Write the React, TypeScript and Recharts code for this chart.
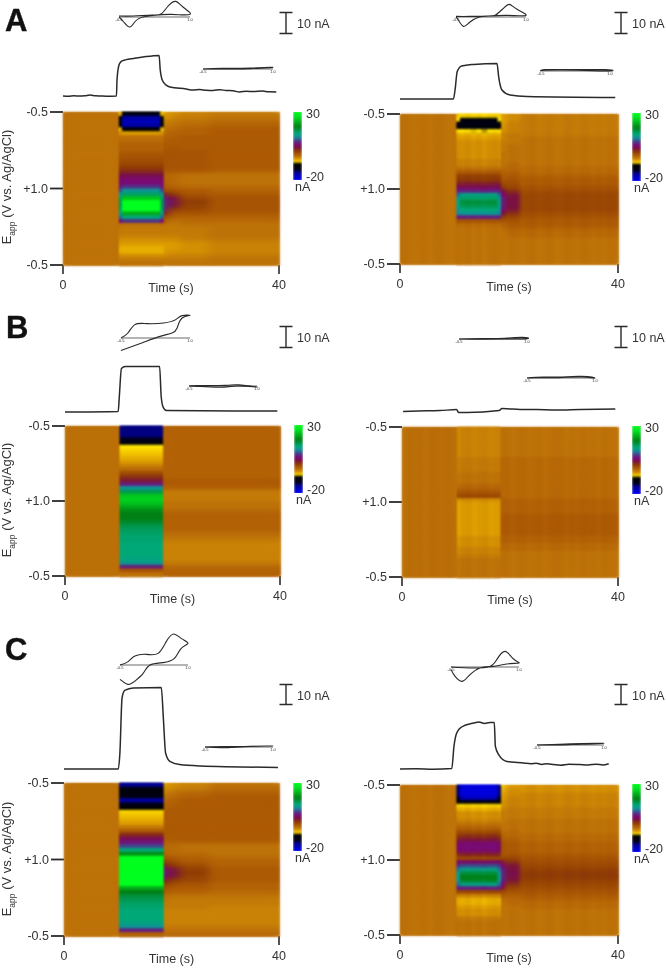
import { Line, LineChart, ReferenceDot, ReferenceLine, Scatter, ScatterChart, XAxis, YAxis } from "recharts"

const colorStops: [number, string][] = [
  [-20, "#0000f0"], [-14, "#000080"], [-13, "#00001e"], [-7.6, "#000000"], [-7, "#ffe400"],
  [-6, "#f0c000"], [-5, "#dc9c00"], [-4, "#c98206"], [-3, "#bd7208"], [-1.5, "#ad5a04"], [1, "#8f3c04"], [3.5, "#7a1040"],
  [6, "#7a0a78"], [8.5, "#4a3a8a"], [11.5, "#10909a"], [14, "#00a878"], [19, "#007f14"],
  [26, "#00e020"], [30, "#00ff1e"],
]
const colorbarLevels = [30, 29, 28, 27, 26, 25, 24, 23, 22, 21, 20, 19, 18, 17, 16, 15, 14, 13, 12, 11, 10, 9, 8, 7, 6, 5, 4, 3, 2, 1, 0, -1, -2, -3, -4, -5, -6, -7, -8, -9, -10, -11, -12, -13, -14, -15, -16, -17, -18, -19, -20]

// heat map profiles, 40 samples down one voltage scan
const aLeftPre = [-3, -3, -3, -3, -3, -3, -3, -3, -3, -3, -3, -3, -3, -3, -3, -3, -3, -3, -3, -3, -3, -3, -3, -3, -3, -3, -3, -3, -3, -3, -3, -3, -3, -3, -3, -3, -3, -3, -3, -3]
const aLeftEdge = [-6, -9, -10, -9, -6, -4.5, -3, -2.5, -2, -2, -1.5, -1, -0.5, 0, 1, 2, 3.5, 5, 5.5, 6.5, 9, 12, 15, 16, 16, 15, 13, 10, 6, -3, -3.5, -3.5, -4, -4.5, -5, -5.5, -5.5, -4.5, -3.5, -3]
const aLeftStim = [-10, -16, -17, -16, -8, -5, -3, -2.5, -2, -2, -1.5, -1, -0.5, 0, 1, 2, 4, 5.5, 6, 8, 12, 15, 24, 30, 30, 30, 22, 14, 8, -3, -3.5, -3.5, -4, -4.5, -5, -5.5, -5.5, -4.5, -3.5, -3]
const aLeftPost1 = [-5, -5, -4, -3.5, -3, -2.5, -2, -2, -1.5, -1.5, -1, -1, -1, -1, -1, -1.5, -2, -2, -2, -1.5, 0, 3, 7, 8, 8, 7, 3, 0, -1.5, -3, -3.5, -3.5, -4, -4.5, -5, -5, -5, -4.5, -3.5, -3]
const aLeftPost2 = [-4.5, -4, -3.5, -3, -2.5, -2, -2, -1.5, -1.5, -1, -1, -1, -1, -1, -1, -1.5, -2.5, -2.5, -2.5, -2, -1, 1, 3.5, 4.5, 3.5, 1, -1, -2, -3, -3.5, -3.5, -3.5, -4, -4.5, -5, -5, -4.5, -4, -3.5, -3]
const aLeftPost3 = [-4, -3.5, -3, -2.5, -2, -2, -1.5, -1.5, -1.5, -1.5, -1, -1, -1, -1, -1, -1.5, -3, -3, -3, -2.5, -1.5, -1, 0, 1, 0.5, 0, -1, -2, -2.5, -3, -3.5, -3.5, -3.5, -4, -4.5, -4.5, -4.5, -4, -3.5, -3]
const aLeftPost4 = [-3.5, -3, -2.5, -2, -1.5, -1.5, -1.5, -1.5, -1.5, -1.5, -1.5, -1.5, -1.5, -1.5, -1.5, -2, -3, -3, -3, -2.5, -2, -1.5, -1, -1, -1, -1, -1.5, -2, -2.5, -3, -3, -3, -3, -3.5, -4, -4, -4, -3.5, -3, -3]

const aRightPre = [-3, -3, -3, -3, -3, -3, -3, -3, -3, -3, -3, -3, -3, -3, -3, -3, -3, -3, -3, -3, -3, -3, -3, -3, -3, -3, -3, -3, -3, -3, -3, -3, -3, -3, -3, -3, -3, -3, -3, -3]
const aRightEdge = [-6.5, -7, -10, -10, -7, -5.5, -5, -4.5, -4.5, -4.5, -4.5, -4.5, -4, -4, -3, -1.5, 0.5, 1, 2.5, 4.5, 7, 10, 12, 13, 13, 12, 11, 7, -1, -2.5, -3, -3, -3, -3, -3, -3, -3, -3, -3, -3]
const aRightStim = [-6.5, -10, -11, -10, -7, -5.5, -5, -4.5, -4.5, -4.5, -4.5, -4.5, -4, -4, -3, -1.5, 0.5, 1, 2.5, 4.5, 7, 13, 15, 17, 16, 14, 12, 7, -1, -2.5, -3, -3, -3, -3, -3, -3, -3, -3, -3, -3]
const aRightPost1 = [-5, -5, -5, -4.5, -4.5, -4, -4, -3.5, -3.5, -3.5, -3, -3, -3, -3, -2.5, -2, -1.5, -1, 0, 1, 4, 6, 7, 7, 7, 6, 4, 1, -1, -2, -2.5, -3, -3, -3, -3, -3, -3, -3, -3, -3]
const aRightPost2 = [-4.5, -4.5, -4, -4, -4, -3.5, -3.5, -3.5, -3, -3, -3, -3, -3, -2.5, -2.5, -2, -1.5, -1, -0.5, 0, 1.5, 3, 3.5, 3.5, 3.5, 3, 1.5, 0, -1, -1.5, -2, -2.5, -2.5, -3, -3, -3, -3, -3, -3, -3]
const aRightPost3 = [-3.5, -3.5, -3.5, -3.5, -3.5, -3.5, -3, -3, -3, -3, -3, -3, -3, -3, -2.5, -2.5, -2, -1.5, -1.5, -1, -0.5, 0, 0, 0, 0, 0, -0.5, -1, -1.5, -1.5, -2, -2.5, -2.5, -3, -3, -3, -3, -3, -3, -3]

const bLeftPre = [-2.8, -2.8, -2.8, -2.8, -2.8, -2.8, -2.8, -2.8, -2.8, -2.8, -2.8, -2.8, -2.8, -2.8, -2.8, -2.8, -2.8, -2.8, -2.8, -2.8, -2.8, -2.8, -2.8, -2.8, -2.8, -2.8, -2.8, -2.8, -2.8, -2.8, -2.8, -2.8, -2.8, -2.8, -2.8, -2.8, -2.8, -2.8, -2.8, -2.8]
const bLeftStim = [-14, -14, -14, -13, -10, -7, -6.5, -6, -5.5, -5, -4, -2.5, -0.5, 1.5, 3, 7, 12, 16, 24, 25, 24, 22, 20, 19, 19, 18, 16.5, 15.5, 15, 14.5, 14.5, 14, 14, 14, 14, 13.5, 12.5, 7, -1, -3]
const bLeftPost = [-2, -2, -2, -2, -2, -2, -2, -2, -2, -2, -2, -2, -2, -2, -1.5, -1.5, -2, -3.5, -3.5, -3.5, -3, -3, -2.5, -2, -2, -2, -2, -2, -2.5, -3, -3.5, -4, -4, -4, -4, -4, -3.5, -2.5, -2, -2]

const bRightPre = [-2.8, -2.8, -2.8, -2.8, -2.8, -2.8, -2.8, -2.8, -2.8, -2.8, -2.8, -2.8, -2.8, -2.8, -2.8, -2.8, -2.8, -2.8, -2.8, -2.8, -2.8, -2.8, -2.8, -2.8, -2.8, -2.8, -2.8, -2.8, -2.8, -2.8, -2.8, -2.8, -2.8, -2.8, -2.8, -2.8, -2.8, -2.8, -2.8, -2.8]
const bRightStim = [-4, -4, -4, -4, -4, -4, -4, -4, -3.5, -3.5, -3.5, -3.5, -3, -3, -3, -2.5, -2, -1, 0, -4.5, -5, -5, -5, -5, -5, -5, -5, -5, -5, -4.5, -4.5, -4.5, -4, -4, -3.5, -3, -3, -3, -3, -3]
const bRightPost = [-3, -3, -3, -3, -3, -3, -3, -3, -2.5, -2.5, -2.5, -2.5, -2.5, -2.5, -2.5, -2.5, -2.5, -2.5, -2.5, -2, -2, -2, -2, -1.5, -1.5, -1.5, -1.5, -1.5, -1.5, -2, -2, -2.5, -2.5, -3, -3, -3, -3, -3, -3, -3]

const cLeftPre = [-3, -3, -3, -3, -3, -3, -3, -3, -3, -3, -3, -3, -3, -3, -3, -3, -3, -3, -3, -3, -3, -3, -3, -3, -3, -3, -3, -3, -3, -3, -3, -3, -3, -3, -3, -3, -3, -3, -3, -3]
const cLeftStim = [-15, -10, -10, -11, -16, -13, -8, -6.5, -6, -5.5, -5, -3.5, -1.5, 2, 4.5, 6.5, 9, 14, 20, 30, 30, 30, 30, 30, 30, 30, 30, 22, 19, 17, 16, 15, 14.5, 14, 14, 14, 13.5, 12, 7, -2]
const cLeftPost1 = [-5, -4.5, -4, -3, -2.5, -2, -2, -1.5, -1.5, -1.5, -1.5, -1.5, -1.5, -1.5, -1.5, -2, -2.5, -2.5, -2, -1, 1, 3, 6, 7, 6, 3, 1, -0.5, -1.5, -2.5, -3, -3.5, -3.5, -4, -4, -4, -4, -3.5, -3, -2.5]
const cLeftPost2 = [-4.5, -4, -3, -2.5, -2, -2, -1.5, -1.5, -1.5, -1.5, -1.5, -1.5, -1.5, -1.5, -1.5, -2, -2.5, -2.5, -2.5, -1.5, -0.5, 1, 3, 3.5, 3, 1, -0.5, -1.5, -2, -3, -3.5, -3.5, -3.5, -4, -4, -4, -4, -3.5, -3, -2.5]
const cLeftPost3 = [-4, -3.5, -2.5, -2, -1.5, -1.5, -1.5, -1.5, -1.5, -1.5, -1.5, -1.5, -1.5, -1.5, -1.5, -2, -3, -3, -2.5, -2, -1.5, -0.5, 0.5, 1, 0.5, 0, -1, -1.5, -2, -3, -3.5, -3.5, -3.5, -4, -4, -4, -4, -3.5, -3, -2.5]
const cLeftPost4 = [-3, -2.5, -2, -1.5, -1.5, -1.5, -1.5, -1.5, -1.5, -1.5, -1.5, -1.5, -1.5, -1.5, -1.5, -2, -3, -3, -3, -2.5, -2, -2, -1.5, -1.5, -1.5, -1.5, -2, -2, -2.5, -3, -3.5, -3.5, -4, -4, -4, -4, -4, -3.5, -3, -2.5]

const cRightPre = [-3, -3, -3, -3, -3, -3, -3, -3, -3, -3, -3, -3, -3, -3, -3, -3, -3, -3, -3, -3, -3, -3, -3, -3, -3, -3, -3, -3, -3, -3, -3, -3, -3, -3, -3, -3, -3, -3, -3, -3]
const cRightEdge = [-14, -14, -14, -12, -9, -6.5, -5.5, -4.5, -4.5, -4, -3, -2, -0.5, 1, 2.5, 4.5, 5, 4.5, 2, 0, 5, 8, 10.5, 12, 12.5, 12, 10, 7, 0, -4, -5.5, -5.5, -5, -4.5, -4.5, -3.5, -3, -3, -3, -3]
const cRightStim = [-19, -19, -19, -17, -10, -6.5, -5.5, -4.5, -4.5, -4, -3, -2, -0.5, 1.5, 3, 5.5, 6, 5.5, 2.5, 0, 5, 9, 13, 17, 19, 18, 13, 7, 0, -4, -5.5, -5.5, -5, -4.5, -4.5, -3.5, -3, -3, -3, -3]
const cRightPost1 = [-6, -5.5, -5, -5, -4.5, -4.5, -4, -3.5, -3.5, -3.5, -3, -3, -2.5, -2, -1.5, -1, -1, -1, -1, 0, 3, 6, 7, 7.5, 7.5, 7, 6, 3, 0, -1.5, -2.5, -3, -3, -3, -3, -3, -3, -3, -3, -3]
const cRightPost2 = [-5, -4.5, -4.5, -4, -4, -4, -3.5, -3.5, -3.5, -3, -3, -3, -2.5, -2.5, -2, -1.5, -1.5, -1.5, -1, 0, 1.5, 3, 3.5, 4, 3.5, 3, 1.5, 0, -1, -2, -2.5, -2.5, -3, -3, -3, -3, -3, -3, -3, -3]
const cRightPost3 = [-4.5, -4.5, -4, -4, -4, -4, -3.5, -3.5, -3.5, -3, -3, -3, -3, -2.5, -2.5, -2, -2, -2, -1.5, -1, -0.5, 0, 0.5, 1, 1, 0.5, 0, -0.5, -1, -1.5, -2, -2.5, -2.5, -3, -3, -3, -3, -3, -3, -3]

// faint vertical streaks of the right column, nA per 1 s bin
const streaksA = [0.2, 0.1, -0.1, 0, 0.2, -0.2, 0.1, 0.2, -0.1, -0.2, 0.1, 0, 0.2, -0.1, 0.1, -0.2, 0.1, 0.2, 0, -0.1, 0.2, 0.1, -0.2, 0.1, 0.2, -0.2, 0, 0.2, -0.1, -0.2, 0.2, 0.1, -0.2, 0.2, 0.1, -0.2, 0.1, -0.1, 0.2, 0]
const streaksB = [-0.1, 0.2, 0, 0.1, -0.2, 0.2, 0.1, -0.1, 0.2, 0, -0.2, 0.1, 0.2, -0.1, 0.1, 0.2, -0.1, 0, 0.1, 0.2, -0.2, 0.1, 0.2, -0.1, 0, 0.2, -0.2, 0.1, 0.1, 0.2, -0.2, 0.1, -0.1, 0.2, 0, 0.1, -0.2, 0.2, 0, -0.1]

// current vs time traces
const traceALTime = [0, 1, 2, 3, 4, 5, 6, 7, 8, 9.9, 10, 10.4, 10.8, 11.7, 13, 14.8, 17.8, 18, 18.5, 19.8, 22.8, 24, 25.3, 26.5, 27.8, 29, 30.2, 31.5, 32.7, 34, 35.2, 37, 38, 39.5]
const traceALCurrent = [0, -0.1, 0.1, 0, 0.1, 0.5, 0.1, 0, -0.1, 0, 8, 15.7, 17.3, 18.2, 18.8, 19.5, 20.3, 13.2, 7.3, 4.5, 3.5, 3, 3.2, 2.9, 2.8, 3.1, 2.8, 2.6, 2, 2.4, 2.2, 2.5, 2.1, 2]
const traceARTime = [0, 9.8, 10.1, 10.5, 11.3, 13.5, 17.8, 18.1, 18.7, 20.2, 23.3, 39.5]
const traceARCurrent = [0, 0, 4.5, 13.7, 16.5, 17.3, 17.8, 11.2, 4.5, 2, 1.2, 0.7]
const traceBLTime = [0, 9.9, 10.1, 10.5, 11.2, 17.6, 17.9, 18.3, 18.9, 39.5]
const traceBLCurrent = [0, 0.3, 7.5, 21.7, 22.7, 22.8, 7.5, 2.2, 0.7, 0.5]
const traceBRTime = [0.2, 3, 7, 10.1, 10.5, 12, 18, 18.5, 21.9, 25, 28.7, 33, 39.5]
const traceBRCurrent = [0.3, 0.5, 0.7, 1.2, -0.3, -0.3, 0.7, 1.7, 1.3, 1.2, 1, 1.3, 1.5]
const traceCLTime = [0, 10.1, 10.4, 10.8, 11.3, 12.9, 18.1, 18.5, 18.9, 19.7, 21.5, 25.3, 39.8]
const traceCLCurrent = [0, 0, 8, 35.5, 39.3, 40.5, 40.8, 24.7, 8, 3.8, 2.2, 1.5, 0.8]
const traceCRTime = [0, 3, 6, 9.5, 9.9, 10.4, 11.3, 13.5, 14.5, 15.5, 16.5, 17.3, 17.5, 18.1, 19.6, 22.7, 24, 25, 26, 27, 28.2, 29.5, 31, 33, 34.5, 36, 37.2, 38.3]
const traceCRCurrent = [0, 0.1, -0.1, 0.2, 11.3, 18, 21, 23, 23.5, 22.8, 23.2, 23.2, 11.3, 7.2, 3.8, 3, 2.6, 2.9, 2.3, 2.6, 2.2, 1.9, 2.4, 2.2, 2, 2.4, 2, 2.6]

// cyclic voltammograms, potential out and back
const cvALTopE = [-0.5, -0.2, 0.2, 0.4, 0.55, 0.7, 0.85, 1, 0.6, 0.2, 0, -0.15, -0.27, -0.4, -0.5]
const cvALTopI = [0.5, 0.5, 1, 1.7, 5.8, 7.8, 5, 1.3, 1.3, 0.7, 0, -2, -5, -2.5, 0]
const cvARTopE = [-0.5, -0.2, 0.2, 0.35, 0.5, 0.64, 0.8, 1, 0.6, 0.2, 0, -0.2, -0.34, -0.45, -0.5]
const cvARTopI = [0.3, 0.3, 0.5, 1, 4, 6.3, 4, 0.8, 0.8, 0.5, 0, -2.5, -4.7, -1.5, 0]
const cvBLTopE = [-0.5, -0.35, -0.2, 0.06, 0.43, 0.69, 0.83, 1, 0.83, 0.72, 0.61, 0.35, -0.02, -0.5]
const cvBLTopI = [0, 2.5, 6.7, 7.2, 7.5, 9.2, 11.2, 11.3, 10, 5, 2.5, 0.8, -2.2, -6.2]
const cvCLTopE = [-0.5, -0.32, -0.17, 0.09, 0.34, 0.52, 0.68, 0.85, 1, 0.85, 0.7, 0.45, 0.16, 0.01, -0.17, -0.32, -0.5]
const cvCLTopI = [0, 1.7, 4.5, 5.3, 5.8, 11.7, 15.5, 13.3, 10.8, 8.3, 3.3, 1.2, 0, -4.2, -8, -9.7, -7.2]
const cvCRTopE = [-0.5, -0.01, 0.36, 0.51, 0.69, 0.88, 1, 0.73, 0.43, 0.14, -0.12, -0.26, -0.41, -0.5]
const cvCRTopI = [0, -0.5, 0.3, 3.7, 7.8, 4, 2, 1.5, 0.3, -0.5, -4.7, -7.2, -4.7, -1.3]
const cvBRTopE = [-0.5, 0, 0.5, 0.9, 1, 0.5, 0, -0.5]
const cvBRTopI = [0, 0.2, 0.4, 0.8, 0.2, 0, -0.1, 0]
const cvALowE = [-0.5, -0.1, 0.5, 1, 0.5, -0.1, -0.5]
const cvALowI = [0, 0.3, 0.5, 0.8, 0.2, 0, 0]
const cvARLowE = [-0.5, -0.4, 0.2, 0.9, 1, 0.3, -0.4, -0.5]
const cvARLowI = [0, 0.7, 0.7, 0.7, 0, 0.4, 0.4, 0]
const cvBLLowE = [-0.5, -0.3, 0.3, 0.6, 1, 0.6, 0.2, -0.3, -0.5]
const cvBLLowI = [0, 0.2, 0.3, 0.6, -0.5, 0, -0.6, -0.2, 0]
const cvBRLowE = [-0.5, -0.3, 0.2, 0.7, 1, 0.7, 0.2, -0.3, -0.5]
const cvBRLowI = [0, 0.4, 0.5, 0.8, 0, 0.5, 0.2, 0.2, 0]
const cvCLLowE = [-0.5, -0.1, 0.5, 1, 0.5, -0.1, -0.5]
const cvCLLowI = [0, 0.2, 0.4, 0.5, 0.3, -0.4, 0]
const cvCRLowE = [-0.5, 0, 0.5, 1, 0.5, 0, -0.5]
const cvCRLowI = [0, 0.4, 0.7, 0.8, 0.4, 0, 0]

const textColor = "#333"
const lineColor = "#2a2a2a"
const fontFamily = "'Liberation Sans', Arial, sans-serif"

type Segment = [number, number, number[]]
type PanelProps = {
  plot: { left: number; top: number; width: number; height: number }
  segments: Segment[]
  stim: [number, number]
  streaks?: number[]
  softFilter: string
  yLabelCenter?: number
  trace: { time: number[]; current: number[]; base: number }
  cvs: { e: number[]; i: number[]; left: number; right: number; base: number }[]
  scaleBar: { x: number; top: number; bottom: number }
  colorbar: { left: number; top: number }
}

function hexToRgb(hex: string) {
  return [1, 3, 5].map((i) => parseInt(hex.slice(i, i + 2), 16))
}

function currentColor(v: number) {
  if (v <= colorStops[0][0]) return colorStops[0][1]
  for (let i = 1; i < colorStops.length; i++) {
    const [hi, hiColor] = colorStops[i]
    if (v <= hi) {
      const [lo, loColor] = colorStops[i - 1]
      const f = (v - lo) / (hi - lo)
      const a = hexToRgb(loColor)
      const b = hexToRgb(hiColor)
      return `rgb(${a.map((c, k) => Math.round(c + (b[k] - c) * f)).join(",")})`
    }
  }
  return colorStops[colorStops.length - 1][1]
}

function buildCells(segments: Segment[], streaks?: number[]) {
  const edges = new Set<number>()
  segments.forEach(([from, to]) => {
    edges.add(from)
    edges.add(to)
  })
  if (streaks) streaks.forEach((_, s) => edges.add(s))
  const times = [...edges].sort((a, b) => a - b)
  const cells: { time: number; span: number; scan: number; nA: number }[] = []
  for (let k = 0; k < times.length - 1; k++) {
    const time = (times[k] + times[k + 1]) / 2
    const segment = segments.find(([from, to]) => time >= from && time < to)
    if (!segment) continue
    const shift = streaks ? streaks[Math.floor(time)] : 0
    segment[2].forEach((nA, row) => {
      cells.push({
        time,
        span: times[k + 1] - times[k],
        scan: (row + 0.5) * 2.5,
        nA: nA + shift,
      })
    })
  }
  return cells
}

const scanLabel = (v: number) => (v === 50 ? "+1.0" : "-0.5")

function HeatPlot({ plot, segments, stim, streaks, softFilter }: Pick<PanelProps, "plot" | "segments" | "stim" | "streaks" | "softFilter">) {
  const cells = buildCells(segments, streaks)
  const outside = cells.filter((c) => c.time < stim[0] || c.time > stim[1])
  const inside = cells.filter((c) => c.time >= stim[0] && c.time <= stim[1])
  const pxPerSecond = plot.width / 40
  const rowHeight = plot.height / 40
  const cell = (p: any) => (
    <rect
      x={p.cx - (p.payload.span * pxPerSecond) / 2}
      y={p.cy - rowHeight / 2}
      width={p.payload.span * pxPerSecond + 0.6}
      height={rowHeight + 0.6}
      fill={currentColor(p.payload.nA)}
    />
  )
  return (
    <div style={{ position: "absolute", left: plot.left - 45, top: plot.top - 8 }}>
      <ScatterChart
        width={plot.width + 45 + 12}
        height={plot.height + 8 + 32}
        margin={{ top: 8, right: 12, bottom: 0, left: 0 }}
      >
        <XAxis
          type="number"
          dataKey="time"
          domain={[0, 40]}
          ticks={[0, 40]}
          height={32}
          tickSize={9}
          tickMargin={6}
          axisLine={false}
          tick={{ fontSize: 12.5, fill: textColor, fontFamily }}
          tickLine={{ stroke: lineColor, strokeWidth: 1.6 }}
          label={{ value: "Time (s)", position: "insideBottom", offset: 5, fontSize: 12.5, fill: textColor, fontFamily }}
        />
        <YAxis
          type="number"
          dataKey="scan"
          domain={[0, 100]}
          reversed
          ticks={[0, 50, 100]}
          tickFormatter={scanLabel}
          width={45}
          tickSize={13}
          axisLine={false}
          tick={{ fontSize: 12.5, fill: textColor, fontFamily }}
          tickLine={{ stroke: lineColor, strokeWidth: 1.8 }}
        />
        <Scatter data={cells} isAnimationActive={false} shape={cell} />
        <Scatter data={outside} isAnimationActive={false} shape={cell} className={softFilter} />
        <Scatter data={inside} isAnimationActive={false} shape={cell} />
      </ScatterChart>
    </div>
  )
}

function Colorbar({ left, top }: PanelProps["colorbar"]) {
  const data = colorbarLevels.map((nA) => ({ x: 0, nA }))
  const label = { position: "absolute" as const, fontSize: 12.5, color: textColor, whiteSpace: "nowrap" as const }
  return (
    <>
      <div style={{ position: "absolute", left, top }}>
        <ScatterChart width={9} height={68} margin={{ top: 0, right: 0, bottom: 0, left: 0 }}>
          <XAxis type="number" dataKey="x" domain={[-1, 1]} hide />
          <YAxis type="number" dataKey="nA" domain={[-20, 30]} hide />
          <Scatter
            data={data}
            isAnimationActive={false}
            shape={(p: any) => (
              <rect x={0} y={p.cy - 1} width={9} height={2} fill={currentColor(p.payload.nA)} />
            )}
          />
        </ScatterChart>
      </div>
      <span style={{ ...label, left: left + 13, top: top - 5 }}>30</span>
      <span style={{ ...label, left: left + 13, top: top + 58 }}>-20</span>
      <span style={{ ...label, left: left + 2, top: top + 68 }}>nA</span>
    </>
  )
}

function Trace({ plot, trace }: Pick<PanelProps, "plot" | "trace">) {
  const data = trace.time.map((t, i) => ({ t, nA: trace.current[i] }))
  return (
    <div style={{ position: "absolute", left: plot.left, top: trace.base - 90 }}>
      <LineChart width={plot.width} height={100} data={data} margin={{ top: 0, right: 0, bottom: 0, left: 0 }}>
        <XAxis type="number" dataKey="t" domain={[0, 40]} hide />
        <YAxis type="number" domain={[-5, 45]} hide />
        <Line dataKey="nA" type="monotone" stroke={lineColor} strokeWidth={1.5} dot={false} isAnimationActive={false} />
      </LineChart>
    </div>
  )
}

function Voltammogram({ e, i, left, right, base }: PanelProps["cvs"][number]) {
  const data = e.map((v, k) => ({ e: v, nA: i[k] }))
  const tiny = { fontSize: 4, fill: textColor, fontFamily }
  const pad = 8
  return (
    <div style={{ position: "absolute", left: left - pad, top: base - 40 }}>
      <LineChart width={right - left + pad * 2} height={60} data={data} margin={{ top: 0, right: pad, bottom: 0, left: pad }}>
        <XAxis type="number" dataKey="e" domain={[-0.5, 1]} hide allowDuplicatedCategory />
        <YAxis type="number" domain={[-10, 20]} hide />
        <ReferenceLine y={0} stroke={lineColor} strokeWidth={0.7} />
        <ReferenceDot x={-0.5} y={0} r={0} label={{ value: "-0.5", position: "bottom", offset: 1, ...tiny }} />
        <ReferenceDot x={1} y={0} r={0} label={{ value: "1.0", position: "bottom", offset: 1, ...tiny }} />
        <Line dataKey="nA" type="natural" stroke={lineColor} strokeWidth={1.1} dot={false} isAnimationActive={false} />
      </LineChart>
    </div>
  )
}

function ScaleBar({ x, top, bottom }: PanelProps["scaleBar"]) {
  return (
    <>
      <svg style={{ position: "absolute", left: x - 8, top: top - 2 }} width={16} height={bottom - top + 4}>
        <path
          d={`M1.5 1.5H14.5M8 1.5V${bottom - top + 2.5}M1.5 ${bottom - top + 2.5}H14.5`}
          fill="none"
          stroke={lineColor}
          strokeWidth={1.4}
        />
      </svg>
      <span
        style={{ position: "absolute", left: x + 11, top: top + 4, fontSize: 12.5, color: textColor, whiteSpace: "nowrap" }}
      >
        10 nA
      </span>
    </>
  )
}

function Panel({ plot, segments, stim, streaks, softFilter, yLabelCenter, trace, cvs, scaleBar, colorbar }: PanelProps) {
  return (
    <>
      {cvs.map((cv, k) => (
        <Voltammogram key={k} {...cv} />
      ))}
      <Trace plot={plot} trace={trace} />
      <HeatPlot plot={plot} segments={segments} stim={stim} streaks={streaks} softFilter={softFilter} />
      <Colorbar {...colorbar} />
      <ScaleBar {...scaleBar} />
      {yLabelCenter !== undefined && (
        <div
          style={{
            position: "absolute",
            left: 8,
            top: yLabelCenter,
            fontSize: 13,
            color: textColor,
            whiteSpace: "nowrap",
            transform: "translate(-50%, -50%) rotate(-90deg)",
          }}
        >
          E<sub style={{ fontSize: 8.5 }}>app</sub> (V vs. Ag/AgCl)
        </div>
      )}
    </>
  )
}

const letterStyle = {
  position: "absolute" as const,
  fontSize: 31,
  fontWeight: 700,
  lineHeight: "31px",
  color: "#111",
  WebkitTextStroke: "0.4px #111",
}

export default function App() {
  return (
    <div style={{ position: "absolute", left: 0, top: 0, width: 666, height: 968, fontFamily, background: "#fff", overflow: "hidden", filter: "blur(0.35px)" }}>
      <style>{`
        .recharts-scatter { filter: blur(1.1px); }
        .heat-wide { filter: url(#heatWide); }
        .heat-narrow { filter: url(#heatNarrow); }
      `}</style>
      <svg width={0} height={0} style={{ position: "absolute" }}>
        <defs>
          <filter id="heatWide" x="0" y="0" width="1" height="1" colorInterpolationFilters="sRGB">
            <feGaussianBlur stdDeviation="5 1.6" />
          </filter>
          <filter id="heatNarrow" x="0" y="0" width="1" height="1" colorInterpolationFilters="sRGB">
            <feGaussianBlur stdDeviation="2 1.4" />
          </filter>
        </defs>
      </svg>
      <div style={{ ...letterStyle, left: 5, top: 5 }}>A</div>
      <div style={{ ...letterStyle, left: 6, top: 312 }}>B</div>
      <div style={{ ...letterStyle, left: 5, top: 634 }}>C</div>

      <Panel
        plot={{ left: 63, top: 112, width: 216, height: 153 }}
        segments={[[0, 10.4, aLeftPre], [10.4, 10.9, aLeftEdge], [10.9, 18, aLeftStim], [18, 18.5, aLeftEdge], [18.5, 19.5, aLeftPost1], [19.5, 21.5, aLeftPost2], [21.5, 27, aLeftPost3], [27, 40, aLeftPost4]]}
        stim={[10.4, 18.5]}
        softFilter="heat-wide"
        yLabelCenter={187}
        trace={{ time: traceALTime, current: traceALCurrent, base: 96 }}
        cvs={[
          { e: cvALTopE, i: cvALTopI, left: 119, right: 190, base: 17 },
          { e: cvALowE, i: cvALowI, left: 203, right: 273, base: 69 },
        ]}
        scaleBar={{ x: 286, top: 13, bottom: 33 }}
        colorbar={{ left: 293, top: 112 }}
      />
      <Panel
        plot={{ left: 400, top: 114, width: 218, height: 150 }}
        segments={[[0, 10.4, aRightPre], [10.4, 11, aRightEdge], [11, 17.9, aRightStim], [17.9, 18.4, aRightEdge], [18.4, 19.4, aRightPost1], [19.4, 22, aRightPost2], [22, 40, aRightPost3]]}
        stim={[10.4, 18.4]}
        streaks={streaksA}
        softFilter="heat-narrow"
        trace={{ time: traceARTime, current: traceARCurrent, base: 99 }}
        cvs={[
          { e: cvARTopE, i: cvARTopI, left: 456, right: 526, base: 17 },
          { e: cvARLowE, i: cvARLowI, left: 541, right: 610, base: 71 },
        ]}
        scaleBar={{ x: 621, top: 13, bottom: 33 }}
        colorbar={{ left: 632, top: 113 }}
      />
      <Panel
        plot={{ left: 65, top: 426, width: 215, height: 150 }}
        segments={[[0, 10.2, bLeftPre], [10.2, 18.1, bLeftStim], [18.1, 40, bLeftPost]]}
        stim={[10.2, 18.1]}
        softFilter="heat-wide"
        yLabelCenter={500}
        trace={{ time: traceBLTime, current: traceBLCurrent, base: 412 }}
        cvs={[
          { e: cvBLTopE, i: cvBLTopI, left: 121, right: 190, base: 338 },
          { e: cvBLLowE, i: cvBLLowI, left: 189, right: 257, base: 386 },
        ]}
        scaleBar={{ x: 286, top: 327, bottom: 347 }}
        colorbar={{ left: 294, top: 425 }}
      />
      <Panel
        plot={{ left: 402, top: 427, width: 216, height: 150 }}
        segments={[[0, 10.2, bRightPre], [10.2, 18.1, bRightStim], [18.1, 40, bRightPost]]}
        stim={[10.2, 18.1]}
        streaks={streaksB}
        softFilter="heat-narrow"
        trace={{ time: traceBRTime, current: traceBRCurrent, base: 412 }}
        cvs={[
          { e: cvBRTopE, i: cvBRTopI, left: 459, right: 527, base: 339 },
          { e: cvBRLowE, i: cvBRLowI, left: 527, right: 595, base: 378 },
        ]}
        scaleBar={{ x: 621, top: 327, bottom: 347 }}
        colorbar={{ left: 632, top: 426 }}
      />
      <Panel
        plot={{ left: 64, top: 783, width: 215, height: 153 }}
        segments={[[0, 10.3, cLeftPre], [10.3, 18.4, cLeftStim], [18.4, 19.4, cLeftPost1], [19.4, 21.5, cLeftPost2], [21.5, 27, cLeftPost3], [27, 40, cLeftPost4]]}
        stim={[10.3, 18.4]}
        softFilter="heat-wide"
        yLabelCenter={859}
        trace={{ time: traceCLTime, current: traceCLCurrent, base: 769 }}
        cvs={[
          { e: cvCLTopE, i: cvCLTopI, left: 120, right: 188, base: 665 },
          { e: cvCLLowE, i: cvCLLowI, left: 205, right: 273, base: 747 },
        ]}
        scaleBar={{ x: 286, top: 685, bottom: 704 }}
        colorbar={{ left: 293, top: 783 }}
      />
      <Panel
        plot={{ left: 400, top: 785, width: 218, height: 150 }}
        segments={[[0, 10.4, cRightPre], [10.4, 11, cRightEdge], [11, 17.9, cRightStim], [17.9, 18.4, cRightEdge], [18.4, 19.4, cRightPost1], [19.4, 22, cRightPost2], [22, 40, cRightPost3]]}
        stim={[10.4, 18.4]}
        streaks={streaksA}
        softFilter="heat-narrow"
        trace={{ time: traceCRTime, current: traceCRCurrent, base: 769 }}
        cvs={[
          { e: cvCRTopE, i: cvCRTopI, left: 451, right: 519, base: 667 },
          { e: cvCRLowE, i: cvCRLowI, left: 537, right: 604, base: 745 },
        ]}
        scaleBar={{ x: 621, top: 685, bottom: 704 }}
        colorbar={{ left: 632, top: 784 }}
      />
    </div>
  )
}
